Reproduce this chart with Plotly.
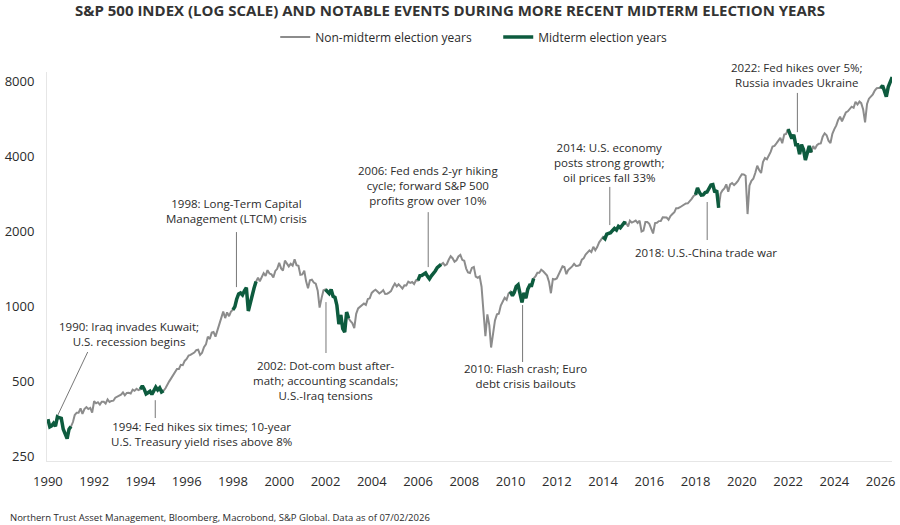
import plotly.graph_objects as go
import pandas as pd
import math

title_text = "S&P 500 INDEX (LOG SCALE) AND NOTABLE EVENTS DURING MORE RECENT MIDTERM ELECTION YEARS"
source_text = "Northern Trust Asset Management, Bloomberg, Macrobond, S&P Global. Data as of 07/02/2026"

series_names = ["Non-midterm election years", "Midterm election years"]
midterm_years = list(range(1990, 2027, 4))

y_tick_values = [250, 500, 1000, 2000, 4000, 8000]
y_tick_labels = ["250", "500", "1000", "2000", "4000", "8000"]
x_tick_values = list(range(1990, 2027, 2))

first_value = 353      # 1990-01-01
last_value = 8330      # 2026-07-02

# month-end index levels, Jan..Dec per row
sp500_month_end = [
    329, 332, 340, 331, 361, 358, 356, 322, 306, 295, 322, 330,            # 1990
    344, 367, 375, 375, 390, 371, 388, 395, 388, 392, 375, 417,            # 1991
    409, 413, 404, 415, 415, 408, 424, 414, 418, 419, 431, 436,            # 1992
    439, 443, 452, 440, 450, 451, 448, 464, 459, 468, 462, 466,            # 1993
    481, 467, 446, 451, 457, 444, 458, 475, 463, 472, 454, 459,            # 1994
    470, 487, 501, 515, 533, 545, 562, 562, 584, 582, 605, 616,            # 1995
    636, 640, 646, 654, 669, 671, 640, 652, 687, 705, 757, 741,            # 1996
    786, 791, 757, 801, 848, 885, 954, 899, 947, 915, 955, 970,            # 1997
    1000, 1070, 1124, 1134, 1113, 1157, 1190, 960, 1037, 1121, 1187, 1260, # 1998
    1306, 1263, 1312, 1362, 1328, 1400, 1356, 1346, 1309, 1390, 1417, 1498, # 1999
    1422, 1393, 1529, 1481, 1449, 1484, 1460, 1548, 1466, 1458, 1341, 1346, # 2000
    1393, 1265, 1183, 1274, 1281, 1248, 1235, 1157, 990, 1081, 1162, 1171,  # 2001
    1153, 1129, 1170, 1099, 1088, 1010, 850, 925, 815, 790, 950, 898,       # 2002
    873, 858, 820, 935, 983, 995, 1010, 1028, 1016, 1072, 1079, 1134,       # 2003
    1154, 1168, 1149, 1129, 1143, 1164, 1124, 1126, 1137, 1153, 1197, 1236, # 2004
    1205, 1228, 1205, 1180, 1216, 1215, 1259, 1244, 1254, 1231, 1274, 1273, # 2005
    1331, 1332, 1347, 1363, 1321, 1290, 1328, 1356, 1389, 1433, 1457, 1475, # 2006
    1496, 1463, 1478, 1541, 1592, 1563, 1513, 1533, 1588, 1611, 1540, 1527, # 2007
    1420, 1371, 1363, 1428, 1442, 1318, 1305, 1321, 1201, 950, 760, 930,    # 2008
    840, 685, 800, 880, 930, 935, 1010, 1045, 1085, 1065, 1128, 1148,       # 2009
    1106, 1137, 1204, 1223, 1122, 1040, 1135, 1080, 1175, 1218, 1216, 1296, # 2010
    1325, 1367, 1366, 1405, 1385, 1361, 1331, 1256, 1131, 1290, 1284, 1296, # 2011
    1351, 1407, 1450, 1440, 1349, 1403, 1420, 1449, 1484, 1454, 1458, 1469, # 2012
    1543, 1560, 1616, 1646, 1680, 1654, 1737, 1682, 1732, 1810, 1860, 1903, # 2013
    1872, 1952, 1966, 1978, 2020, 2058, 2028, 2099, 2071, 2119, 2171, 2162, # 2014
    2095, 2210, 2171, 2190, 2212, 2166, 2209, 2000, 2016, 2183, 2184, 2146, # 2015
    2037, 1965, 2163, 2168, 2202, 2204, 2283, 2280, 2276, 2232, 2309, 2351, # 2016
    2393, 2482, 2481, 2503, 2533, 2544, 2594, 2596, 2645, 2704, 2780, 2808, # 2017
    2993, 2877, 2799, 2807, 2867, 2881, 2985, 3076, 3089, 2875, 2926, 2490, # 2018
    2839, 2923, 2976, 3093, 2890, 3089, 3129, 3072, 3126, 3190, 3298, 3393, # 2019
    3387, 3350, 2350, 3058, 3196, 3255, 3435, 3675, 3531, 3434, 3803, 3944, # 2020
    3900, 4002, 4172, 4390, 4414, 4513, 4615, 4749, 4523, 4900, 4930, 5150, # 2021
    4877, 4724, 4892, 4463, 4463, 4088, 4460, 4271, 3873, 4182, 4406, 4147, # 2022
    4403, 4288, 4438, 4503, 4514, 4806, 4956, 4869, 4631, 4530, 4933, 5152, # 2023
    5331, 5606, 5779, 5540, 5806, 6006, 6074, 6213, 6338, 6276, 6635, 6470, # 2024
    6645, 6551, 6173, 5480, 6503, 6826, 6973, 7106, 7357, 7524, 7534, 7530, # 2025
    7700, 7350, 6950, 7600, 7950, 8250,                                     # 2026 H1
]

# event labels: text, label centre (year, level), leader line (years, levels)
event_texts = [
    "1990: Iraq invades Kuwait;<br>U.S. recession begins",
    "1994: Fed hikes six times; 10-year<br>U.S. Treasury yield rises above 8%",
    "1998: Long-Term Capital<br>Management (LTCM) crisis",
    "2002: Dot-com bust after-<br>math; accounting scandals;<br>U.S.-Iraq tensions",
    "2006: Fed ends 2-yr hiking<br>cycle; forward S&P 500<br>profits grow over 10%",
    "2010: Flash crash; Euro<br>debt crisis bailouts",
    "2014: U.S. economy<br>posts strong growth;<br>oil prices fall 33%",
    "2018: U.S.-China trade war",
    "2022: Fed hikes over 5%;<br>Russia invades Ukraine",
]
event_label_x = [1993.52, 1996.65, 1998.15, 2002.02, 2006.44, 2010.64, 2014.25, 2018.45, 2022.40]
event_label_y = [776, 309, 2428, 507, 3074, 524, 3802, 1655, 8456]
leader_x = [[1991.72, 1990.43], [1994.64, 1994.64], [1998.15, 1998.15], [2002.02, 2002.02],
            [2006.44, 2006.44], [2010.52, 2010.52], [2014.29, 2014.29], [2018.50, 2018.50],
            [2022.40, 2022.40]]
leader_y = [[657, 367], [421, 357], [1990, 1197], [1042, 651], [2392, 1440],
            [1014, 599], [3020, 2123], [2627, 1849], [7196, 5010]]

# ---------------------------------------------------------------
dates = ([pd.Timestamp("1990-01-01")]
         + list(pd.date_range("1990-01-31", periods=len(sp500_month_end), freq=pd.offsets.MonthEnd()))
         + [pd.Timestamp("2026-07-02")])
values = [first_value] + sp500_month_end + [last_value]


def dec_year(d):
    days = 366 if d.is_leap_year else 365
    return d.year + (d.dayofyear - 1) / days


x_years = [dec_year(d) for d in dates]
green_vals = []
for d, v in zip(dates, values):
    in_mid = d.year in midterm_years or (d.month == 12 and d.day == 31 and (d.year + 1) in midterm_years)
    green_vals.append(v if in_mid else None)

GRAY = "#8c8c8c"
GREEN = "#0d5b3e"
FONT = "Open Sans"
TXT = "#2b2b2b"

fig = go.Figure()
fig.add_trace(go.Scatter(x=x_years, y=values, mode="lines", name=series_names[0],
                         line=dict(color=GRAY, width=2), hoverinfo="skip"))
fig.add_trace(go.Scatter(x=x_years, y=green_vals, mode="lines", name=series_names[1],
                         line=dict(color=GREEN, width=3.5), connectgaps=False, hoverinfo="skip"))

for lx, ly in zip(leader_x, leader_y):
    fig.add_trace(go.Scatter(x=lx, y=ly, mode="lines", showlegend=False, hoverinfo="skip",
                             line=dict(color="#777777", width=1)))

annotations = []
for t, ax_, ay_ in zip(event_texts, event_label_x, event_label_y):
    annotations.append(dict(x=ax_, y=math.log10(ay_), xref="x", yref="y", text=t, showarrow=False,
                            xanchor="center", yanchor="middle", align="center",
                            font=dict(family=FONT, size=11.5, color=TXT)))
annotations.append(dict(x=-0.046, y=-0.144, xref="paper", yref="paper", text=source_text,
                        showarrow=False, xanchor="left", yanchor="middle",
                        font=dict(family=FONT, size=9.5, color=TXT)))

fig.update_layout(
    width=900, height=525,
    margin=dict(l=44, r=5, t=72, b=64),
    paper_bgcolor="white", plot_bgcolor="white",
    title=dict(text="<b>" + title_text + "</b>", x=0.5, xanchor="center", y=0.979, yanchor="middle",
               yref="container", font=dict(family=FONT, size=15, color="#333333")),
    legend=dict(orientation="h", x=0.534, xanchor="center", y=1.09, yanchor="middle",
                font=dict(family=FONT, size=12, color=TXT), bgcolor="rgba(0,0,0,0)",
                entrywidth=178, entrywidthmode="pixels"),
    annotations=annotations,
    showlegend=True,
)
fig.update_xaxes(range=[1989.96, 2026.49], tickvals=x_tick_values, tickformat="d",
                 showgrid=False, zeroline=False, showline=True, linecolor="#e6e6e6", linewidth=1,
                 ticks="", ticklabelstandoff=8, tickfont=dict(family=FONT, size=13, color=TXT))
fig.update_yaxes(type="log", range=[math.log10(240), math.log10(8733)], tickvals=y_tick_values,
                 ticktext=y_tick_labels, showgrid=False, zeroline=False, showline=True,
                 linecolor="#e6e6e6", linewidth=1, ticks="", ticklabelstandoff=9,
                 tickfont=dict(family=FONT, size=13, color=TXT))

fig.write_html("out.html")
